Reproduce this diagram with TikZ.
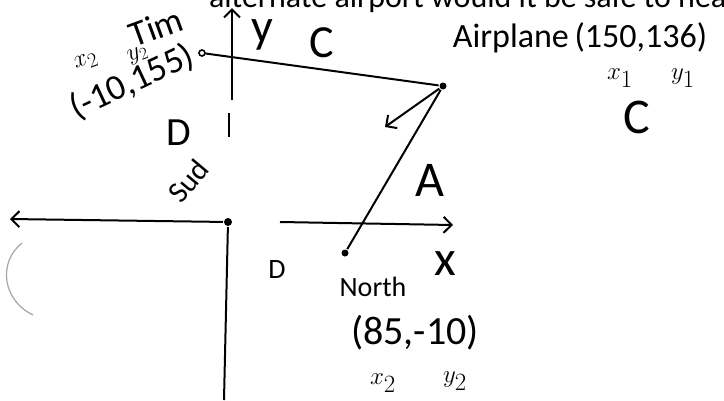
\documentclass[tikz,border=0pt]{standalone}
\usepackage{fontspec}
\setmainfont{Carlito}
\usetikzlibrary{arrows.meta}

\newcommand{\fs}[1]{\fontsize{#1}{#1}\selectfont}

\begin{document}
\begin{tikzpicture}[x=1pt, y=-1pt, line width=2pt,
  dot/.style={circle, fill, inner sep=0pt, minimum size=7pt},
  ring/.style={circle, draw, line width=1.6pt, inner sep=0pt, minimum size=6pt},
  hand/.style={inner sep=0pt, font=\fs{#1}},
  barb/.style={-{Straight Barb[length=8pt, width=16pt, line width=2pt]}}]
  \useasboundingbox (0,0) rectangle (724,400);
  \clip (0,0) rectangle (724,400);
  % question text, cut off by the top edge
  \node[hand=32, anchor=base west] (question) at (208,7) {alternate airport would it be safe to hea};
  % points
  \node[ring] (tim) at (202,53) {};
  \node[dot] (plane) at (443,86) {};
  \node[dot] (north) at (345,253) {};
  \node[dot, minimum size=8pt] (sud) at (228,222) {};
  % axes
  \coordinate (ytop) at (232,8);
  \coordinate (ybot) at (232,100);
  \coordinate (tickA) at (229,113);
  \coordinate (tickB) at (229,137);
  \coordinate (lefttip) at (10,219);
  \coordinate (sudbottom) at (224,400);
  \coordinate (xstart) at (280,222);
  \coordinate (xtip) at (453,225);
  \draw[barb] (ybot) -- (ytop);
  \draw (tickA) -- (tickB);
  \draw[barb] (sud) -- (lefttip);
  \draw (sud) -- (sudbottom);
  \draw[barb] (xstart) -- (xtip);
  % flight lines
  \coordinate (heading) at (385,127);
  \draw (tim) -- (plane);
  \draw (plane) -- (north);
  \draw[barb] (plane) -- (heading);
  % faint arc
  \draw[gray!70, line width=1.2pt] (22,243) .. controls (-2,262) and (2,300) .. (33,315);
  % labels
  \node[hand=36, rotate=20] (timlbl) at (156,27) {Tim};
  \node[hand=30, rotate=20] (timx) at (86,62) {$x_2$};
  \node[hand=26, rotate=20] (timy) at (138,55) {$y_2$};
  \node[hand=36, rotate=25] (timxy) at (132,82) {(-10,155)};
  \node[hand=48] (ylbl) at (262,35) {y};
  \node[hand=46] (cone) at (322,43) {C};
  \node[hand=34] (planelbl) at (580,38) {Airplane\,(150,136)};
  \node[hand=34] (planex) at (620,78) {$x_1$};
  \node[hand=34] (planey) at (683,78) {$y_1$};
  \node[hand=50] (ctwo) at (637,117) {C};
  \node[hand=50] (albl) at (430,180) {A};
  \node[hand=40] (done) at (179,133) {D};
  \node[hand=30, rotate=50] (sudlbl) at (188,181) {Sud};
  \node[hand=28] (dtwo) at (277,270) {D};
  \node[hand=28] (northlbl) at (373,287) {North};
  \node[hand=50] (xlbl) at (445,264) {x};
  \node[hand=40] (northxy) at (415,333) {(85,-10)};
  \node[hand=36] (northx) at (383,383) {$x_2$};
  \node[hand=36] (northy) at (455,381) {$y_2$};
\end{tikzpicture}
\end{document}
